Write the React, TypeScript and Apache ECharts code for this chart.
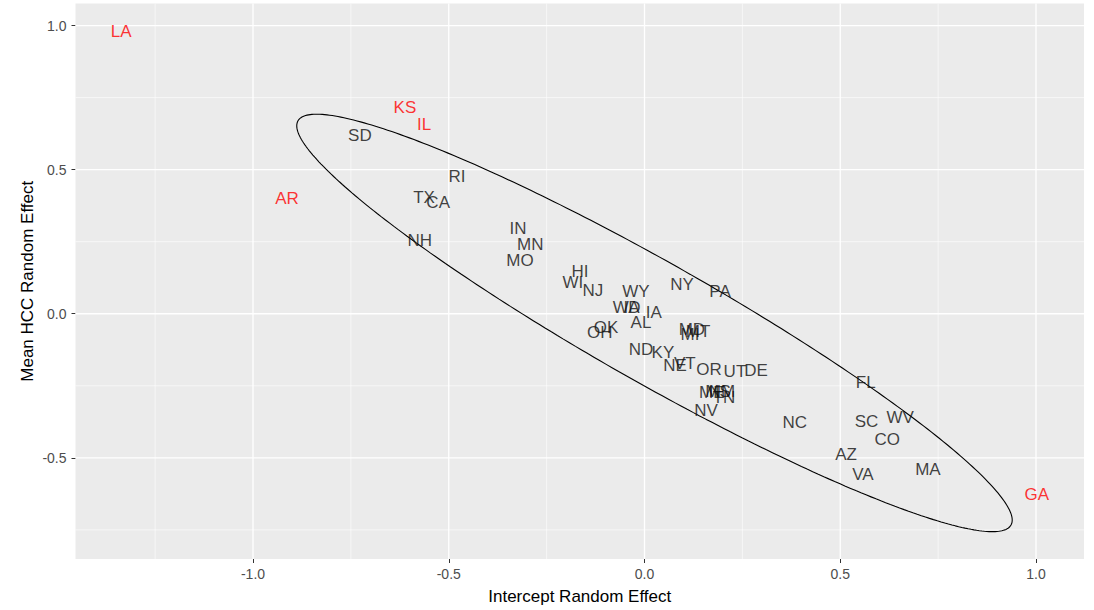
import React, { useEffect, useRef } from "react";
import * as echarts from "echarts";

// state labels (black) and their coordinates
const blackStates = ["SD","RI","TX","CA","NH","IN","MN","MO","HI","WI","NJ","WY","WA","ID","IA","AL","OK","OH","ND","KY","NE","VT","NY","PA","MD","MI","MT","OR","UT","DE","ME","MS","NM","TN","NV","NC","FL","SC","WV","CO","AZ","VA","MA"];
const blackX = [-0.727,-0.479,-0.563,-0.527,-0.574,-0.323,-0.292,-0.318,-0.165,-0.183,-0.132,-0.022,-0.047,-0.032,0.024,-0.009,-0.098,-0.114,-0.009,0.047,0.078,0.103,0.096,0.193,0.121,0.116,0.137,0.165,0.231,0.285,0.172,0.188,0.198,0.203,0.157,0.384,0.565,0.567,0.653,0.620,0.515,0.558,0.724];
const blackY = [0.618,0.476,0.403,0.386,0.254,0.295,0.240,0.184,0.147,0.108,0.081,0.077,0.022,0.022,0.005,-0.030,-0.048,-0.065,-0.124,-0.134,-0.179,-0.172,0.101,0.077,-0.054,-0.072,-0.061,-0.193,-0.200,-0.196,-0.272,-0.269,-0.269,-0.290,-0.335,-0.377,-0.238,-0.373,-0.359,-0.435,-0.487,-0.557,-0.539];

// outlier states (red)
const redStates = ["LA","KS","IL","AR","GA"];
const redX = [-1.337,-0.612,-0.563,-0.913,1.002];
const redY = [0.981,0.715,0.655,0.399,-0.629];

// axes
const xTicks = [-1, -0.5, 0, 0.5, 1];
const yTicks = [-0.5, 0, 0.5, 1];
const xMinor = [-1.25, -0.75, -0.25, 0.25, 0.75];
const yMinor = [-0.75, -0.25, 0.25, 0.75];
const xRange = [-1.4534, 1.1226];
const yRange = [-0.8511, 1.0766];

// ellipse (centre and half-axis vectors, data units)
const ellipseCenter = [0.0255, -0.0319];
const ellipseMajor = [0.9106, -0.7014];
const ellipseMinor = [-0.0757, -0.1807];

const FONT = "'Liberation Sans', Arial, sans-serif";

export default function App() {
  const ref = useRef<HTMLDivElement>(null);
  useEffect(() => {
    if (!ref.current) return;
    const chart = echarts.init(ref.current, null, { renderer: "svg" });

    const ellipsePts: number[][] = [];
    const N = 360;
    for (let i = 0; i <= N; i++) {
      const t = (i / N) * Math.PI * 2;
      ellipsePts.push([
        ellipseCenter[0] + ellipseMajor[0] * Math.cos(t) + ellipseMinor[0] * Math.sin(t),
        ellipseCenter[1] + ellipseMajor[1] * Math.cos(t) + ellipseMinor[1] * Math.sin(t),
      ]);
    }

    const gridSeries: any[] = [];
    const vline = (v: number, w: number) => ({
      type: "line", silent: true, z: 1, symbol: "none",
      data: [[v, yRange[0]], [v, yRange[1]]],
      lineStyle: { color: "#ffffff", width: w },
    });
    const hline = (v: number, w: number) => ({
      type: "line", silent: true, z: 1, symbol: "none",
      data: [[xRange[0], v], [xRange[1], v]],
      lineStyle: { color: "#ffffff", width: w },
    });
    xMinor.forEach((v) => gridSeries.push(vline(v, 0.6)));
    yMinor.forEach((v) => gridSeries.push(hline(v, 0.6)));
    xTicks.forEach((v) => gridSeries.push(vline(v, 1.3)));
    yTicks.forEach((v) => gridSeries.push(hline(v, 1.3)));

    const labelSeries = (names: string[], xs: number[], ys: number[], color: string) => ({
      type: "scatter",
      z: 3,
      symbolSize: 0,
      silent: true,
      data: names.map((n, i) => ({ name: n, value: [xs[i], ys[i]] })),
      label: {
        show: true,
        position: "inside",
        formatter: "{b}",
        color,
        fontFamily: FONT,
        fontSize: 17,
        align: "center",
        verticalAlign: "middle",
        offset: [0, 1],
      },
      labelLayout: { hideOverlap: false },
    });

    chart.setOption({
      animation: false,
      grid: {
        left: 75.5, right: 10, top: 3.5, bottom: 50,
        show: true, backgroundColor: "#ebebeb", borderWidth: 0,
      },
      xAxis: {
        type: "value",
        min: xRange[0], max: xRange[1],
        name: "Intercept Random Effect",
        nameLocation: "middle",
        nameGap: 29,
        nameMoveOverlap: false,
        nameTextStyle: { color: "#000", fontSize: 17, fontFamily: FONT },
        axisLine: { show: false, onZero: false },
        axisTick: { show: true, length: 4, customValues: xTicks, lineStyle: { color: "#333", width: 1 } },
        axisLabel: {
          customValues: xTicks,
          formatter: (v: number) => v.toFixed(1),
          color: "#4d4d4d", fontSize: 14, fontFamily: FONT, margin: 8,
        },
        splitLine: { show: false },
      },
      yAxis: {
        type: "value",
        min: yRange[0], max: yRange[1],
        name: "Mean HCC Random Effect",
        nameLocation: "middle",
        nameGap: 40,
        nameMoveOverlap: false,
        nameTextStyle: { color: "#000", fontSize: 17, fontFamily: FONT },
        axisLine: { show: false, onZero: false },
        axisTick: { show: true, length: 4, customValues: yTicks, lineStyle: { color: "#333", width: 1 } },
        axisLabel: {
          customValues: yTicks,
          formatter: (v: number) => v.toFixed(1),
          color: "#4d4d4d", fontSize: 14, fontFamily: FONT, margin: 9,
        },
        splitLine: { show: false },
      },
      series: [
        ...gridSeries,
        {
          type: "line",
          z: 2,
          silent: true,
          symbol: "none",
          smooth: false,
          data: ellipsePts,
          lineStyle: { color: "#000", width: 1.1 },
        },
        labelSeries(blackStates, blackX, blackY, "#111111"),
        labelSeries(redStates, redX, redY, "#ff0000"),
      ],
    });
    return () => chart.dispose();
  }, []);
  return (
    <div
      ref={ref}
      style={{ position: "absolute", left: 0, top: 0, width: 1094, height: 610, background: "#fff" }}
    />
  );
}
